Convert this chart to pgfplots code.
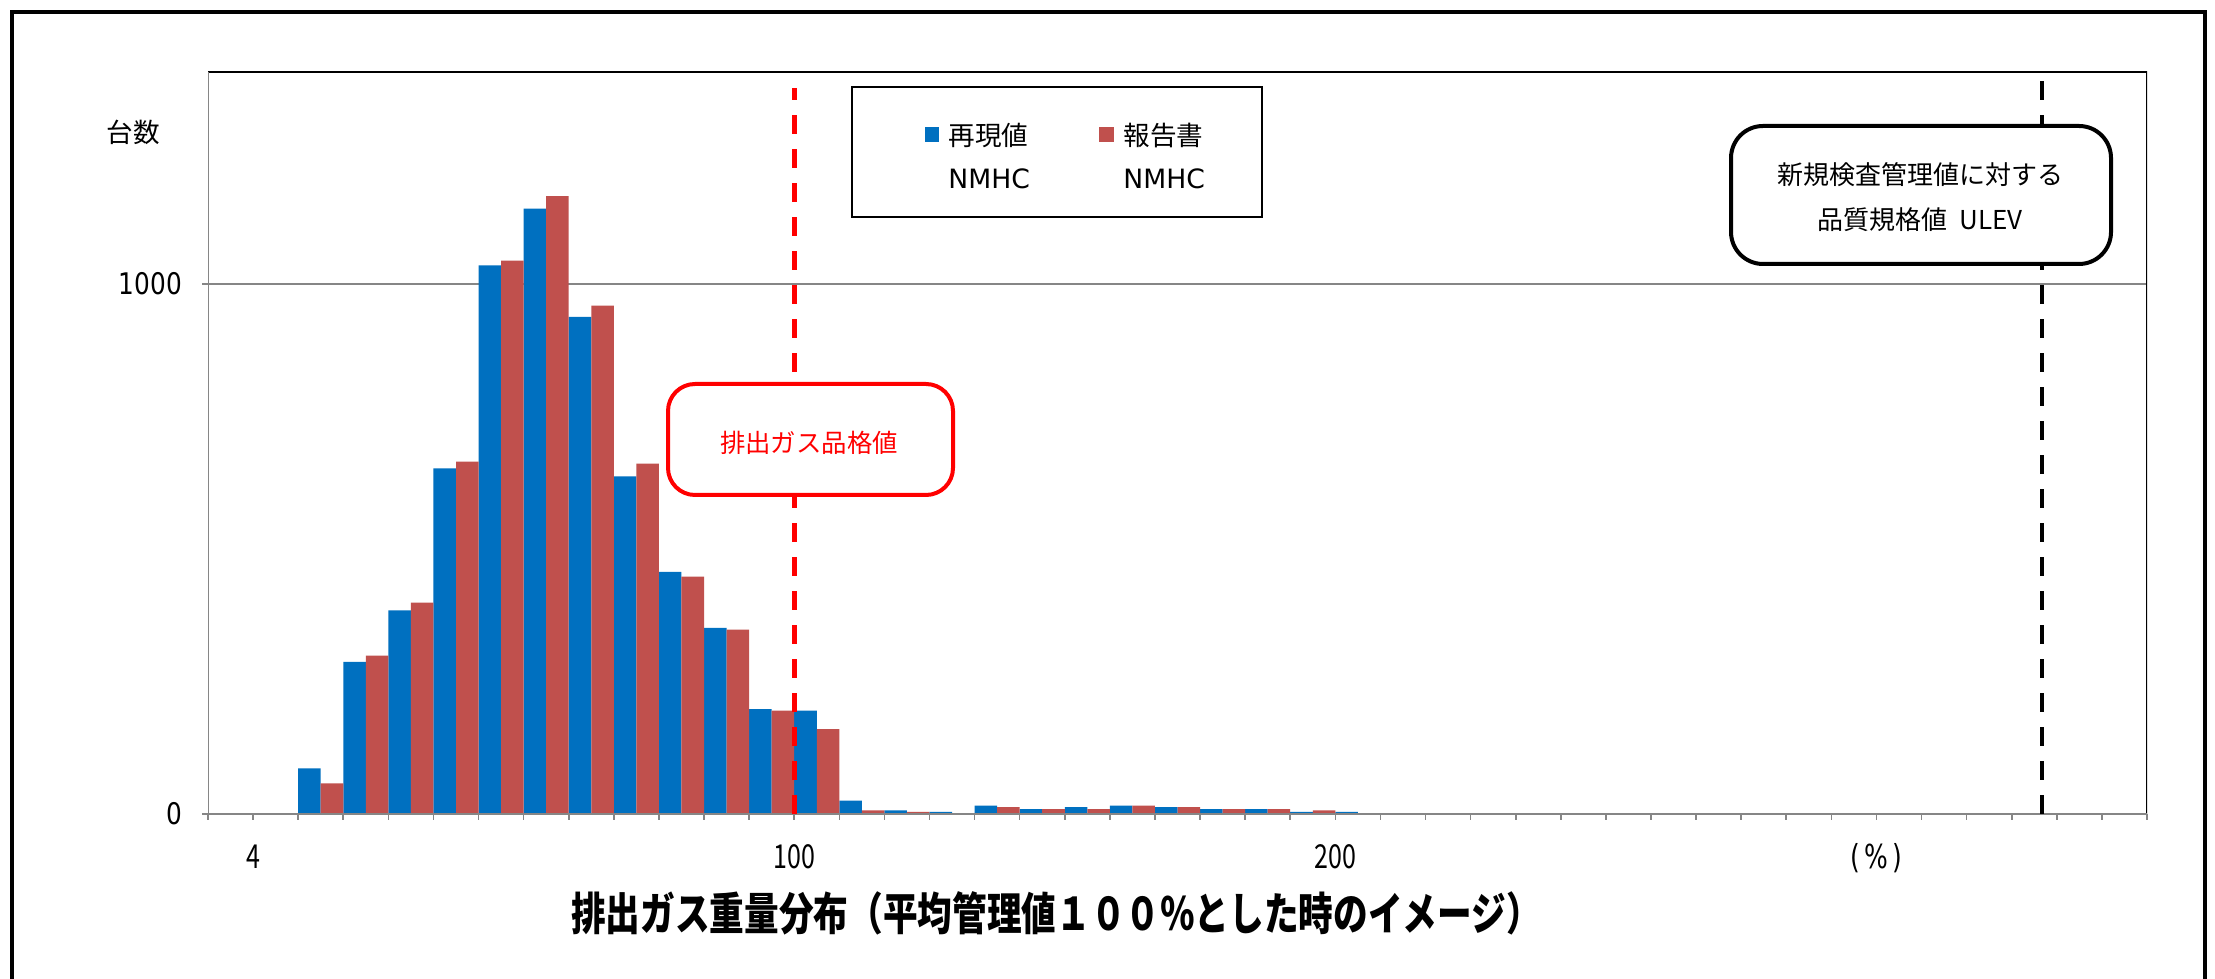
\documentclass[border=0pt]{standalone}
\usepackage{fontspec}
\usepackage{graphicx}
\usepackage{pgfplots}
\pgfplotsset{compat=1.18}
\setmainfont{DejaVu Sans}
\newfontfamily\cjk{Noto Sans CJK JP}
\definecolor{barblue}{HTML}{0070C0}
\definecolor{barred}{HTML}{C0504D}
\definecolor{axgray}{HTML}{868686}
\pgfplotstableread{
x blue
0.25 0
1.25 1
2.25 86
3.25 287
4.25 384
5.25 652
6.25 1035
7.25 1142
8.25 938
9.25 637
10.25 457
11.25 351
12.25 198
13.25 195
14.25 25
15.25 7
16.25 4
17.25 16
18.25 9
19.25 13
20.25 16
21.25 13
22.25 9
23.25 9
24.25 4
25.25 4
26.25 1
27.25 1
28.25 1
29.25 1
30.25 1
31.25 0
32.25 1
}\blueT
\pgfplotstableread{
x red
0.75 0
1.75 1
2.75 58
3.75 299
4.75 399
5.75 665
6.75 1044
7.75 1166
8.75 959
9.75 661
10.75 448
11.75 348
12.75 195
13.75 160
14.75 7
15.75 4
16.75 1
17.75 13
18.75 9
19.75 9
20.75 16
21.75 13
22.75 9
23.75 9
24.75 7
25.75 1
26.75 1
27.75 1
}\redT
\newcommand{\xl}[1]{\scalebox{1}[1.32]{#1}}
\newcommand{\yl}[1]{\scalebox{1}[1.2]{#1}}
\begin{document}
\begin{tikzpicture}
\useasboundingbox (0,0) rectangle (1107.5pt,489.5pt);
\fill[white] (0,0) rectangle (1107.5pt,489.5pt);
\begin{axis}[
  at={(104pt,82.5pt)}, anchor=south west,
  width=969.5pt, height=371pt, scale only axis,
  xmin=0, xmax=43, ymin=0, ymax=1400,
  axis line style={draw=none},
  xtick={1,13,25,37}, xticklabels={\xl{4},\xl{100},\xl{200},{\xl{\fontspec{DejaVu Sans}(\kern2pt\%\kern2pt)}}},
  minor xtick={0,...,43},
  ytick={0,1000}, yticklabels={\yl{0},\yl{1000}},
  xtick pos=bottom, ytick pos=left,
  ymajorgrids, grid style={axgray, line width=0.8pt},
  tick align=outside,
  major tick length=3pt, minor tick length=3pt,
  tick style={axgray, line width=0.8pt},
  xticklabel style={font=\cjk\fontsize{12.5}{14}\selectfont, anchor=base, yshift=-24pt},
  yticklabel style={font=\fontsize{12.4}{14}\selectfont, anchor=east, xshift=-6.5pt},
]
\addplot[ybar, bar width=0.5, bar shift=0pt, fill=barblue, draw=none] table[x=x,y=blue] {\blueT};
\addplot[ybar, bar width=0.5, bar shift=0pt, fill=barred, draw=none] table[x=x,y=red] {\redT};
\draw[black, line width=0.75pt] (rel axis cs:0,0) rectangle (rel axis cs:1,1);
\draw[axgray, line width=1pt] (rel axis cs:0,1) -- (rel axis cs:0,0) -- (rel axis cs:1,0);
\draw[red, line width=2.4pt, dash pattern=on 9.5pt off 7.5pt] (axis cs:13,0) -- (axis cs:13,1370);
\draw[black, line width=2.4pt, dash pattern=on 9.5pt off 7.5pt] (axis cs:40.67,0) -- (axis cs:40.67,1390);
\end{axis}
\begin{scope}[x=0.5pt,y=0.5pt]
% outer frame
\draw[black, line width=2pt] (12,0) -- (12,967) -- (2205,967) -- (2205,0);
% y label
\node[font=\cjk\fontsize{13.3}{16}\selectfont] at (133,847) {台数};
% legend
\draw[black, line width=0.75pt, fill=white] (852,762) rectangle (1262,892);
\fill[barblue] (925,837) rectangle (939,852);
\fill[barred] (1099,837) rectangle (1114,852);
\node[anchor=west, inner sep=0pt, font=\cjk\fontsize{13.3}{16}\selectfont] at (948,844) {再現値};
\node[anchor=west, inner sep=0pt, font=\fontsize{13.3}{16}\selectfont] at (948,800) {NMHC};
\node[anchor=west, inner sep=0pt, font=\cjk\fontsize{13.3}{16}\selectfont] at (1123,844) {報告書};
\node[anchor=west, inner sep=0pt, font=\fontsize{13.3}{16}\selectfont] at (1123,800) {NMHC};
% red box
\draw[red, line width=2pt, rounded corners=13.5pt, fill=white] (668,484) rectangle (953,595);
\node[red, font=\cjk\fontsize{12.7}{15}\selectfont] at (809,536) {排出ガス品格値};
% black box
\draw[black, line width=2pt, rounded corners=16pt, fill=white] (1731,715) rectangle (2111,853);
\node[font=\cjk\fontsize{13}{15}\selectfont] at (1920,804) {新規検査管理値に対する};
\node[font=\cjk\fontsize{13}{15}\selectfont] at (1920,759) {品質規格値\ \ ULEV};
% title
\node at (1056,66) {\scalebox{0.77}[1]{\cjk\bfseries\fontsize{22.5}{26}\selectfont 排出ガス重量分布（平均管理値１００％とした時のイメージ）}};
\end{scope}
\end{tikzpicture}
\end{document}
